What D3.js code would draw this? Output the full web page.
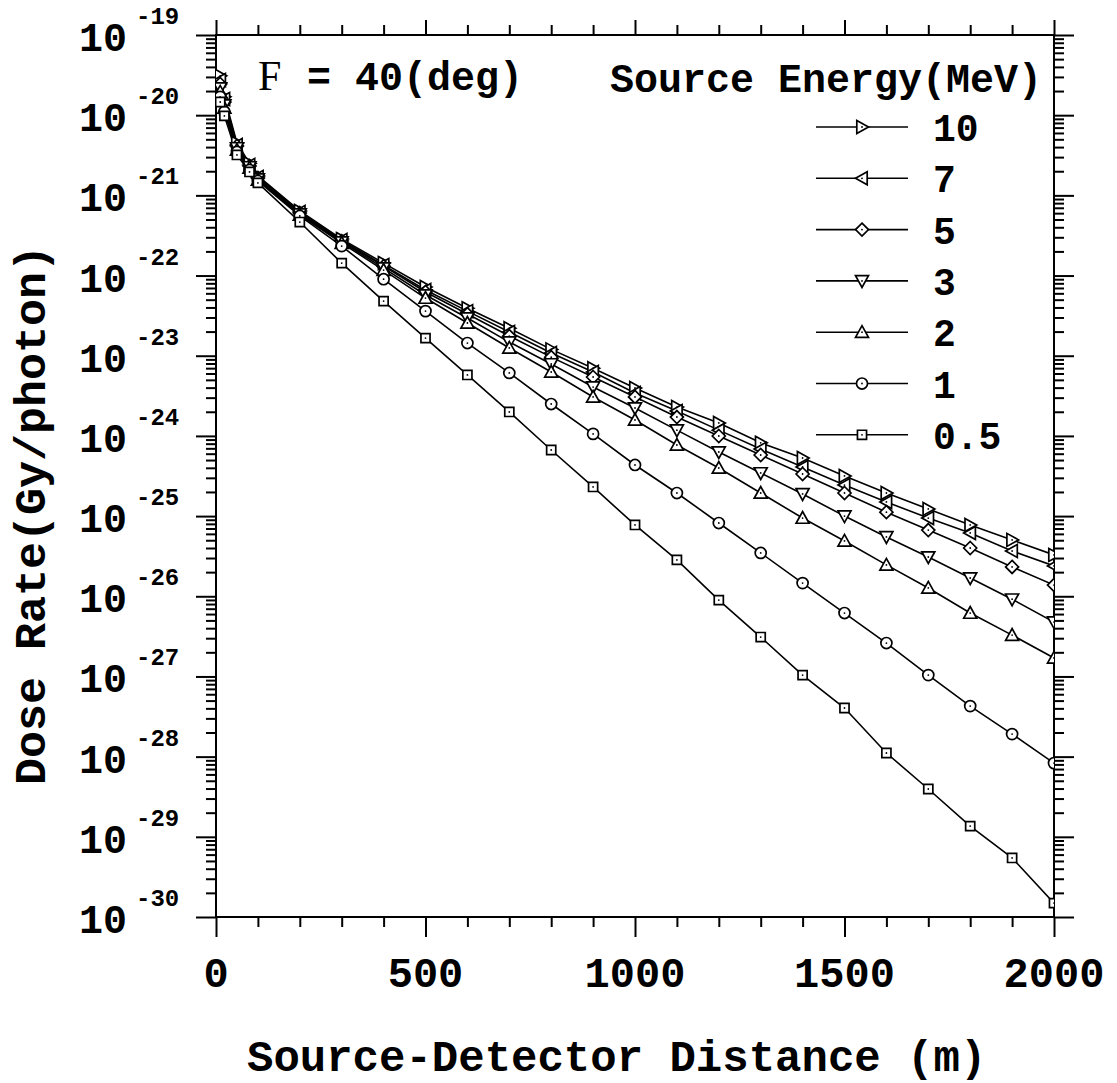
<!DOCTYPE html>
<html lang='en'>
    <head>
        <title>Dose rate vs distance</title>
        <script src="https://d3js.org/d3.v7.min.js"></script>
        <style>
            body { margin:0; background:white; }
            svg { width:1117px; height:1083px; background-color:white; }
            .mono { font-family:"Courier New","Nimbus Mono PS","Liberation Mono",monospace; font-weight:bold; }
        </style>
    </head>
    <body>
        <svg id="chart_svg"></svg>
    </body>

    <script>
        // data
        const distance = [10, 20, 50, 80, 100, 200, 300, 400, 500, 600, 700, 800, 900, 1000,
                          1100, 1200, 1300, 1400, 1500, 1600, 1700, 1800, 1900, 2000];
        const energyLabels = ["10", "7", "5", "3", "2", "1", "0.5"];
        const markerShapes = ["right", "left", "diamond", "down", "up", "circle", "square"];

        const dose10 = [3.1e-20, 1.7e-20, 4.5e-21, 2.5e-21, 1.75e-21, 6.4e-22, 2.85e-22, 1.43e-22, 7.2e-23, 3.9e-23,
                        2.2e-23, 1.2e-23, 7.0e-24, 3.96e-24, 2.29e-24, 1.45e-24, 8.2e-25, 5.3e-25, 3.17e-25, 1.94e-25,
                        1.23e-25, 7.75e-26, 5.05e-26, 3.28e-26];
        const dose7 = [2.75e-20, 1.59e-20, 4.25e-21, 2.39e-21, 1.7e-21, 6.2e-22, 2.77e-22, 1.35e-22, 6.6e-23, 3.6e-23,
                       1.98e-23, 1.08e-23, 6.27e-24, 3.43e-24, 2.04e-24, 1.18e-24, 6.87e-25, 4.1e-25, 2.44e-25, 1.5e-25,
                       9.45e-26, 6.16e-26, 3.67e-26, 2.39e-26];
        const dose5 = [2.45e-20, 1.46e-20, 4.13e-21, 2.33e-21, 1.65e-21, 6.03e-22, 2.69e-22, 1.31e-22, 6.23e-23, 3.31e-23,
                       1.76e-23, 9.6e-24, 5.43e-24, 3.06e-24, 1.72e-24, 9.97e-25, 5.78e-25, 3.35e-25, 1.94e-25, 1.12e-25,
                       6.7e-26, 4.0e-26, 2.32e-26, 1.38e-26];
        const dose3 = [2.18e-20, 1.34e-20, 3.9e-21, 2.26e-21, 1.6e-21, 5.85e-22, 2.62e-22, 1.24e-22, 5.72e-23, 2.95e-23,
                       1.48e-23, 7.9e-24, 4.07e-24, 2.23e-24, 1.18e-24, 6.3e-25, 3.45e-25, 1.89e-25, 1.0e-25, 5.5e-26,
                       3.09e-26, 1.69e-26, 9.2e-27, 4.77e-27];
        const dose2 = [1.95e-20, 1.23e-20, 3.68e-21, 2.2e-21, 1.56e-21, 5.7e-22, 2.54e-22, 1.17e-22, 5.24e-23, 2.56e-23,
                       1.25e-23, 6.27e-24, 3.06e-24, 1.58e-24, 7.7e-25, 3.98e-25, 1.94e-25, 9.45e-26, 4.9e-26, 2.46e-26,
                       1.27e-26, 6.18e-27, 3.28e-27, 1.7e-27];
        const dose1 = [1.69e-20, 1.1e-20, 3.48e-21, 2.07e-21, 1.51e-21, 5.53e-22, 2.33e-22, 9.0e-23, 3.6e-23, 1.44e-23,
                       6.1e-24, 2.5e-24, 1.06e-24, 4.34e-25, 1.94e-25, 8.2e-26, 3.47e-26, 1.46e-26, 6.18e-27, 2.61e-27,
                       1.04e-27, 4.27e-28, 1.91e-28, 8.3e-29];
        const dose05 = [1.46e-20, 9.8e-21, 3.19e-21, 1.96e-21, 1.43e-21, 4.65e-22, 1.43e-22, 4.8e-23, 1.66e-23, 5.76e-24,
                        1.99e-24, 6.67e-25, 2.31e-25, 7.75e-26, 2.84e-26, 8.96e-27, 3.1e-27, 1.04e-27, 4.04e-28, 1.11e-28,
                        3.95e-29, 1.36e-29, 5.45e-30, 1.49e-30];

        const xMajor = [0, 500, 1000, 1500, 2000];
        const yExponents = [-19, -20, -21, -22, -23, -24, -25, -26, -27, -28, -29, -30];

        const series = [dose10, dose7, dose5, dose3, dose2, dose1, dose05].map((vals, i) => ({
            label: energyLabels[i],
            shape: markerShapes[i],
            points: vals.map((v, j) => ({x: distance[j], y: v}))
        }));

        // plot box
        const boxLeft = 216, boxRight = 1054, boxTop = 35, boxBottom = 917;
        const svg = d3.select('#chart_svg');

        const x = d3.scaleLinear().domain([0, 2000]).range([boxLeft, boxRight]);
        const y = d3.scaleLog().domain([1e-30, 1e-19]).range([boxBottom, boxTop]);

        // minor tick values
        const xMinor = d3.range(0, 2001, 100).filter(d => d % 500 !== 0);
        var yMinor = [];
        for (var k = -30; k < -19; k++) {
            for (var m = 2; m <= 9; m++) yMinor.push(m * Math.pow(10, k));
        }
        const yMajor = yExponents.map(e => Math.pow(10, e));

        // draw a tick set: axis generator, values, size
        function ticks(axisFn, scale, values, size, transform) {
            svg.append("g")
                .attr("transform", transform)
                .call(axisFn(scale).tickValues(values).tickSize(size).tickSizeOuter(0).tickFormat(""))
                .call(g => g.select(".domain").remove())
                .selectAll("line").attr("stroke", "black").attr("stroke-width", 2);
        }
        ticks(d3.axisBottom, x, xMinor, 10, `translate(0,${boxBottom})`);
        ticks(d3.axisBottom, x, xMajor, 20, `translate(0,${boxBottom})`);
        ticks(d3.axisTop, x, xMinor, 10, `translate(0,${boxTop})`);
        ticks(d3.axisTop, x, xMajor, 15, `translate(0,${boxTop})`);
        ticks(d3.axisLeft, y, yMinor, 10, `translate(${boxLeft},0)`);
        ticks(d3.axisLeft, y, yMajor, 20, `translate(${boxLeft},0)`);
        ticks(d3.axisRight, y, yMinor, 10, `translate(${boxRight},0)`);
        ticks(d3.axisRight, y, yMajor, 20, `translate(${boxRight},0)`);

        // frame
        svg.append("rect")
            .attr("x", boxLeft).attr("y", boxTop)
            .attr("width", boxRight - boxLeft).attr("height", boxBottom - boxTop)
            .attr("fill", "none").attr("stroke", "black").attr("stroke-width", 2);

        // x tick labels
        svg.selectAll(".xlab")
            .data(xMajor)
            .join("text")
            .attr("class", "mono")
            .attr("x", d => x(d))
            .attr("y", 987)
            .attr("text-anchor", "middle")
            .style("font-size", "42px")
            .text(d => d);

        // y tick labels 10^n
        const ylab = svg.selectAll(".ylab").data(yExponents).join("g");
        ylab.append("text")
            .attr("class", "mono")
            .attr("x", 79)
            .attr("y", d => y(Math.pow(10, d)) + 16)
            .style("font-size", "40px")
            .text("10");
        ylab.append("text")
            .attr("class", "mono")
            .attr("x", 136)
            .attr("y", d => y(Math.pow(10, d)) - 11)
            .style("font-size", "24px")
            .text(d => d);

        // axis titles
        svg.append("text")
            .attr("class", "mono")
            .attr("x", 247).attr("y", 1071)
            .style("font-size", "44px")
            .text("Source-Detector Distance (m)");
        svg.append("text")
            .attr("class", "mono")
            .attr("transform", "translate(45,515) rotate(-90)")
            .attr("text-anchor", "middle")
            .style("font-size", "45px")
            .text("Dose Rate(Gy/photon)");

        // marker shapes
        function markerPath(shape, r) {
            if (shape == "right") return `M${-r*0.8},${-r}L${r},0L${-r*0.8},${r}Z`;
            if (shape == "left") return `M${r*0.8},${-r}L${-r},0L${r*0.8},${r}Z`;
            if (shape == "down") return `M${-r},${-r*0.8}L${r},${-r*0.8}L0,${r}Z`;
            if (shape == "up") return `M${-r},${r*0.8}L${r},${r*0.8}L0,${-r}Z`;
            if (shape == "diamond") return `M0,${-r}L${r},0L0,${r}L${-r},0Z`;
            if (shape == "circle") return `M${r*0.85},0A${r*0.85},${r*0.85} 0 1,1 ${-r*0.85},0A${r*0.85},${r*0.85} 0 1,1 ${r*0.85},0Z`;
            const s = r * 0.7;
            return `M${-s},${-s}L${s},${-s}L${s},${s}L${-s},${s}Z`;
        }

        function drawMarker(g, shape, cx, cy) {
            g.append("path")
                .attr("transform", `translate(${cx},${cy})`)
                .attr("d", markerPath(shape, 6.5))
                .attr("fill", "white")
                .attr("stroke", "black")
                .attr("stroke-width", 1.7);
            g.append("circle")
                .attr("cx", cx).attr("cy", cy).attr("r", 0.9)
                .attr("fill", "black");
        }

        // clip to the plot box
        svg.append("clipPath").attr("id", "plotclip")
            .append("rect")
            .attr("x", boxLeft).attr("y", boxTop)
            .attr("width", boxRight - boxLeft).attr("height", boxBottom - boxTop);

        const plot = svg.append("g").attr("clip-path", "url(#plotclip)");
        const line = d3.line().x(d => x(d.x)).y(d => y(d.y));

        series.forEach(s => {
            plot.append("path")
                .datum(s.points)
                .attr("d", line)
                .attr("fill", "none")
                .attr("stroke", "black")
                .attr("stroke-width", 1.6);
        });
        series.forEach(s => {
            s.points.forEach(p => drawMarker(plot, s.shape, x(p.x), y(p.y)));
        });

        // angle note
        const note = svg.append("text").attr("x", 258).attr("y", 90).style("font-size", "40px");
        note.append("tspan")
            .style("font-family", "'Liberation Serif','Times New Roman',serif")
            .style("font-size", "42px")
            .text("F");
        note.append("tspan")
            .attr("class", "mono")
            .attr("x", 283)
            .attr("xml:space", "preserve")
            .style("white-space", "pre")
            .text(" = 40(deg)");

        // legend
        svg.append("text")
            .attr("class", "mono")
            .attr("x", 610).attr("y", 92)
            .style("font-size", "40px")
            .text("Source Energy(MeV)");

        const legend = svg.append("g");
        series.forEach((s, i) => {
            const ly = 127 + i * 51.3;
            legend.append("line")
                .attr("x1", 816).attr("x2", 908)
                .attr("y1", ly).attr("y2", ly)
                .attr("stroke", "black").attr("stroke-width", 1.6);
            drawMarker(legend, s.shape, 862, ly);
            legend.append("text")
                .attr("class", "mono")
                .attr("x", 933).attr("y", ly + 14)
                .style("font-size", "38px")
                .text(s.label);
        });
    </script>
</html>
